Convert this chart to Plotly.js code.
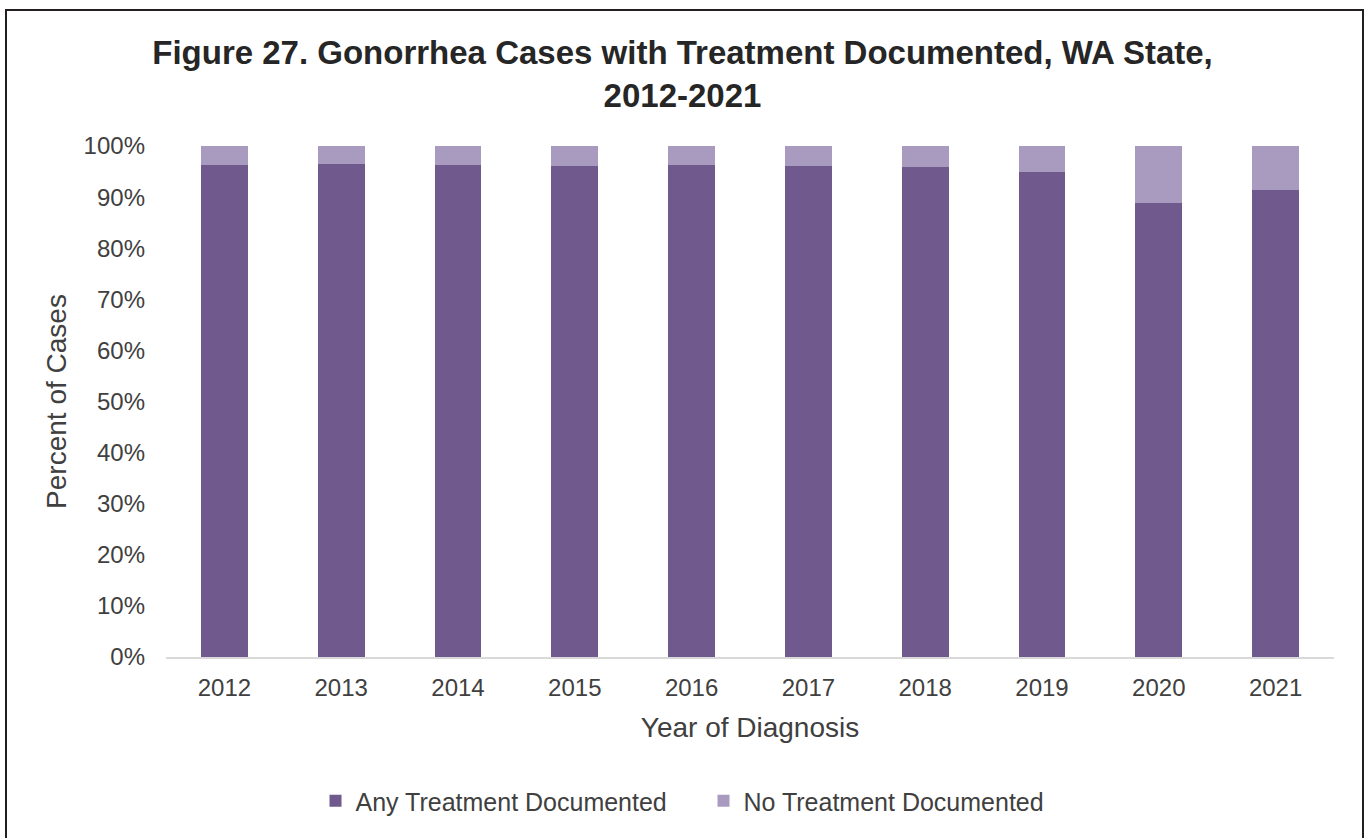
<!DOCTYPE html>
<html>
<head>
<meta charset="utf-8">
<script src="https://cdn.plot.ly/plotly-3.0.1.min.js"></script>
<style>
  html, body { margin: 0; padding: 0; background: #fff; }
  #wrap { position: relative; width: 1365px; height: 838px; overflow: hidden; }
  #chart { width: 1365px; height: 838px; }
  #frame { position: absolute; left: 5px; top: 9px; width: 1355px; height: 900px;
           border: 2px solid #231f20; pointer-events: none; }
</style>
</head>
<body>
<div id="wrap">
  <div id="chart"></div>
  <div id="frame"></div>
</div>
<script>
const years = ["2012","2013","2014","2015","2016","2017","2018","2019","2020","2021"];
const anyTreatment = [0.963, 0.965, 0.963, 0.961, 0.963, 0.961, 0.959, 0.950, 0.888, 0.914];
const noTreatment = anyTreatment.map(v => +(1 - v).toFixed(3));
const yTicks = [0, 0.1, 0.2, 0.3, 0.4, 0.5, 0.6, 0.7, 0.8, 0.9, 1.0];
const yTickLabels = ["0%","10%","20%","30%","40%","50%","60%","70%","80%","90%","100%"];

const FONT = '"Liberation Sans", Arial, sans-serif';

const traces = [
  { type: 'bar', name: 'Any Treatment Documented', x: years, y: anyTreatment,
    marker: { color: '#705a8d' }, hoverinfo: 'x+y' },
  { type: 'bar', name: 'No Treatment Documented', x: years, y: noTreatment,
    marker: { color: '#a99bbf' }, hoverinfo: 'x+y' }
];

const layout = {
  width: 1365, height: 838,
  paper_bgcolor: '#ffffff', plot_bgcolor: '#ffffff',
  margin: { l: 166, r: 31, t: 146, b: 181 },
  font: { family: FONT, color: '#404040', size: 24 },
  barmode: 'stack',
  bargap: 0.6,
  title: {
    text: '<b>Figure 27. Gonorrhea Cases with Treatment Documented, WA State,<br>2012-2021</b>',
    font: { family: FONT, size: 33, color: '#262626' },
    xref: 'container', x: 0.5, xanchor: 'center',
    yref: 'container', y: 1 - 64/838, yanchor: 'top'
  },
  xaxis: {
    type: 'category',
    showgrid: false, zeroline: false,
    showline: true, linecolor: '#d9d9d9', linewidth: 2,
    ticks: '', ticklabelstandoff: 8,
    tickfont: { family: FONT, size: 24, color: '#404040' },
    title: { text: 'Year of Diagnosis', font: { family: FONT, size: 28, color: '#404040' }, standoff: 18 }
  },
  yaxis: {
    range: [0, 1],
    tickvals: yTicks, ticktext: yTickLabels,
    showgrid: false, zeroline: false, showline: false,
    ticks: '', ticklabelstandoff: 20,
    tickfont: { family: FONT, size: 24, color: '#404040' },
    title: { text: 'Percent of Cases', font: { family: FONT, size: 28, color: '#404040' }, standoff: 8 }
  },
  showlegend: true,
  legend: {
    orientation: 'h',
    xref: 'container', x: 0.5 + 21/1365, xanchor: 'center',
    yref: 'container', y: 1 - 801/838, yanchor: 'middle',
    font: { family: FONT, size: 25, color: '#404040' },
    itemwidth: 30, tracegroupgap: 0,
    entrywidth: 343, entrywidthmode: 'pixels',
    traceorder: 'normal'
  }
};

Plotly.newPlot('chart', traces, layout, { displayModeBar: false, staticPlot: true });
</script>
</body>
</html>
